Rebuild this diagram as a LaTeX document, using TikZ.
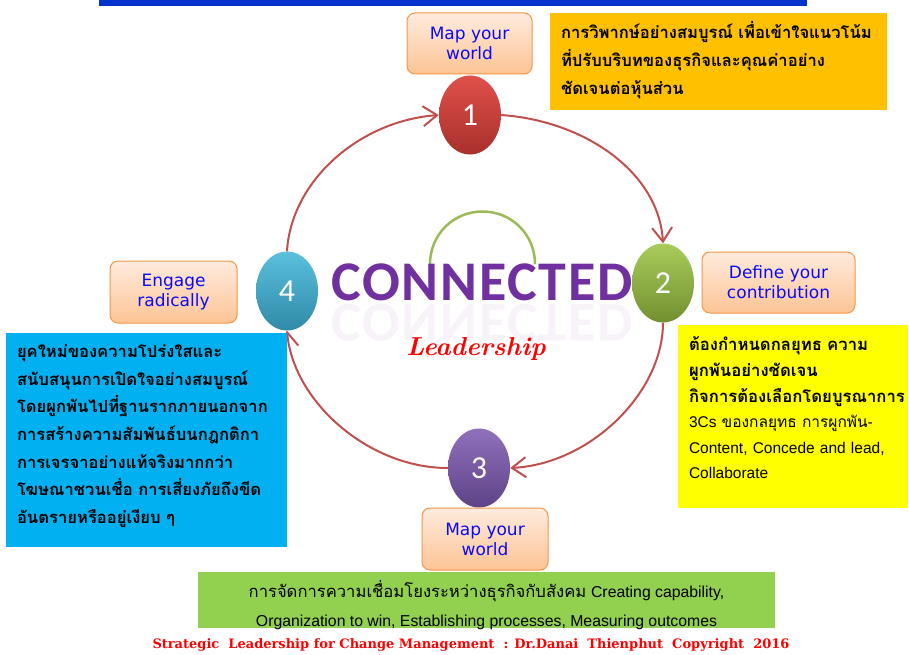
\documentclass[tikz,border=0pt]{standalone}
\usepackage{fontspec}
\usepackage{xcolor}
\usepackage{tikz}
\usetikzlibrary{shapes.geometric}
\usetikzlibrary{arrows.meta}

\newfontfamily\thaifont[Script=Thai]{Loma}
\newfontfamily\arialfont{Liberation Sans}
\newfontfamily\calfont{Carlito}
\newfontfamily\widecalfont[LetterSpace=3]{Carlito}
\newfontfamily\tagfont{DejaVu Sans}
\newfontfamily\slabfont{DejaVu Serif}

\definecolor{barblue}{HTML}{0033CC}
\definecolor{notegold}{HTML}{FFC000}
\definecolor{noteyellow}{HTML}{FFFF00}
\definecolor{noteblue}{HTML}{00B0F0}
\definecolor{notegreen}{HTML}{92D050}
\definecolor{ringred}{HTML}{C0504D}
\definecolor{arcgreen}{HTML}{9BBB59}
\definecolor{tagedge}{HTML}{F79646}
\definecolor{tagtop}{HTML}{FFEBDD}
\definecolor{tagbot}{HTML}{FCC495}
\definecolor{tagblue}{HTML}{0A0AF5}
\definecolor{connpurple}{HTML}{7030A0}
\definecolor{onetop}{HTML}{E0504A}
\definecolor{onebot}{HTML}{A8302C}
\definecolor{twotop}{HTML}{A8CC5A}
\definecolor{twobot}{HTML}{739030}
\definecolor{threetop}{HTML}{9070BB}
\definecolor{threebot}{HTML}{5E4388}
\definecolor{fourtop}{HTML}{5AC0DC}
\definecolor{fourbot}{HTML}{2F8AA8}

\newcommand{\thaibold}{\thaifont\bfseries}

\tikzset{
  numball/.style={ellipse, inner sep=0pt, minimum width=62pt, minimum height=79pt,
    text=white, font=\calfont\fontsize{32}{32}\selectfont},
  tagbox/.style={draw=tagedge, line width=1pt, rounded corners=8pt, top color=tagtop,
    bottom color=tagbot, align=center, text=tagblue, inner sep=0pt,
    font=\tagfont\fontsize{17}{20}\selectfont},
  notebox/.style={inner sep=0pt, align=left, text=black},
  ring/.style={draw=ringred, line width=2pt, -{Straight Barb[length=14pt,width=20pt]}},
}

\begin{document}
\begin{tikzpicture}[x=1pt,y=1pt,yscale=-1]
%uncomment if require: \path (0,655); %set diagram left start at 0, and has height of 655
\useasboundingbox (0,0) rectangle (909,655);

%Shape: Rectangle [top bar]
\fill [barblue] (99,0) rectangle (807,6);

%Shape: Arc [green]
\draw [arcgreen, line width=2.5pt] (430,264) .. controls (430,235) and (453,211.5) .. (482.5,211.5) .. controls (512,211.5) and (535,235) .. (535,264);

% Text Node
\node (connected) [anchor=base, text=connpurple, font=\widecalfont\bfseries\fontsize{56}{56}\selectfont] at (482,300) {CONNECTED};
% Text Node
\node (mirror) [anchor=base, transform shape, opacity=0.06, text=connpurple, font=\widecalfont\bfseries\fontsize{56}{56}\selectfont] at (482,304) {CONNECTED};
% Text Node
\node (leader) [anchor=base, text=red, font=\bfseries\itshape\fontsize{26}{26}\selectfont] at (476,355) {Leadership};

%Shape: Ellipse
\node (n1) [numball, top color=onetop, bottom color=onebot] at (470,115) {1};
\node (n2) [numball, top color=twotop, bottom color=twobot] at (663,283) {2};
\node (n3) [numball, top color=threetop, bottom color=threebot] at (479,468) {3};
\node (n4) [numball, top color=fourtop, bottom color=fourbot] at (287,291) {4};

% ring of arrows
\draw [ring] (n1.east) .. controls +(85,6) and +(-4,-70) .. (n2.north);
\draw [ring] (n2.south) .. controls +(0,70) and +(80,-4) .. (n3.east);
\draw [ring] (n3.west) .. controls +(-80,0) and +(6,70) .. (n4.south);
\draw [ring] (n4.north) .. controls +(4,-70) and +(-80,6) .. (n1.west);

% Text Node
\node (mapworld) [tagbox, minimum width=125pt, minimum height=61pt] at (469.5,43.5) {Map your\\world};
% Text Node
\node (define) [tagbox, minimum width=153pt, minimum height=61pt] at (778.5,282.5) {Define your\\contribution};
% Text Node
\node (mapworld2) [tagbox, minimum width=126pt, minimum height=62pt] at (485,539) {Map your\\world};
% Text Node
\node (engage) [tagbox, minimum width=127pt, minimum height=62pt] at (173.5,292) {Engage\\radically};

%Shape: Rectangle [notes]
\node (critique) [fill=notegold, minimum width=337pt, minimum height=97pt] at (718.5,61.5) {};
\node (strategy) [fill=noteyellow, minimum width=230pt, minimum height=183pt] at (793,416.5) {};
\node (transparency) [fill=noteblue, minimum width=281pt, minimum height=214pt] at (146.5,440) {};
\node (society) [fill=notegreen, minimum width=577pt, minimum height=56pt] at (486.5,600) {};

% Text Node
\node (critiquetext) [notebox, text width=320pt, font=\thaibold\fontsize{16.6}{28}\selectfont] at (721,60)
  {การวิพากษ์อย่างสมบูรณ์ เพื่อเข้าใจแนวโน้ม\\ที่ปรับบริบทของธุรกิจและคุณค่าอย่าง\\ชัดเจนต่อหุ้นส่วน};
% Text Node
\node (strategytext) [notebox, text width=218pt, font=\fontsize{15.5}{25.6}\selectfont] at (798,408)
  {{\thaibold\fontsize{16.7}{25.6}\selectfont ต้องกำหนดกลยุทธ ความ\\ผูกพันอย่างชัดเจน\\กิจการต้องเลือกโดยบูรณาการ}\\
   {\arialfont 3Cs} {\thaifont ของกลยุทธ การผูกพัน}{\arialfont -}\\
   {\arialfont Content, Concede and lead,}\\{\arialfont Collaborate}};
% Text Node
\node (transparencytext) [notebox, text width=262pt, font=\thaibold\fontsize{16.6}{27.7}\selectfont] at (148,436)
  {ยุคใหม่ของความโปร่งใสและ\\สนับสนุนการเปิดใจอย่างสมบูรณ์\\โดยผูกพันไปที่ฐานรากภายนอกจาก\\การสร้างความสัมพันธ์บนกฎกติกา\\การเจรจาอย่างแท้จริงมากกว่า\\โฆษณาชวนเชื่อ การเสี่ยงภัยถึงขีด\\อันตรายหรืออยู่เงียบ ๆ};
% Text Node
\node (societytext) [inner sep=0pt, align=center, font=\fontsize{15.8}{29}\selectfont] at (486.5,605)
  {{\thaifont\fontsize{16.6}{29}\selectfont การจัดการความเชื่อมโยงระหว่างธุรกิจกับสังคม} {\arialfont Creating capability,}\\
   {\arialfont Organization to win, Establishing processes, Measuring outcomes}};

% Text Node
\node (copyright) [text=red, inner sep=0pt, font=\slabfont\bfseries\fontsize{13}{14}\selectfont] at (471,645)
  {Strategic\ \ Leadership for Change Management\ \ : Dr.Danai\ \ Thienphut\ \ Copyright\ \ 2016};
\end{tikzpicture}
\end{document}
